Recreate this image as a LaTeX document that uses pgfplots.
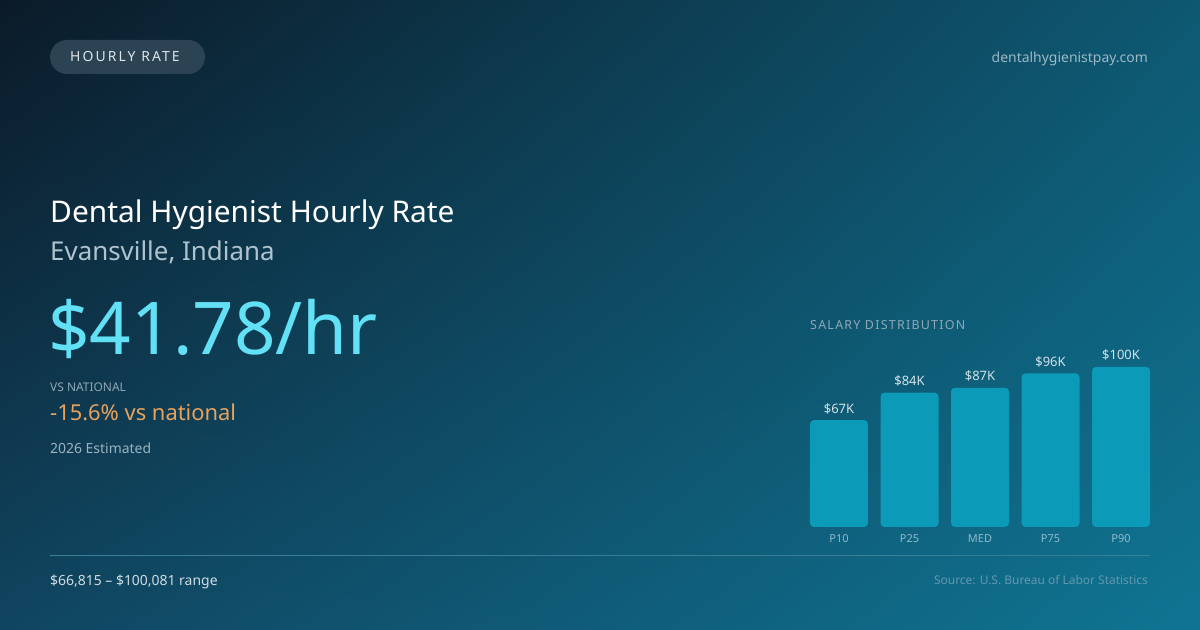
\documentclass[border=0pt]{standalone}
\usepackage{pgfplots}
\pgfplotsset{compat=1.18}
\usetikzlibrary{shadings}
\usepackage{fontspec}
\setmainfont{Noto Sans}

\definecolor{bgTL}{HTML}{0B1A28}
\definecolor{bgTR}{HTML}{0E5872}
\definecolor{bgBL}{HTML}{104560}
\definecolor{bgBR}{HTML}{0F7593}
\definecolor{pill}{HTML}{2B4352}
\definecolor{pilltext}{HTML}{DCE5EA}
\definecolor{site}{HTML}{9DB8C6}
\definecolor{subtitle}{HTML}{AFC3CE}
\definecolor{rate}{HTML}{62E0F5}
\definecolor{muted}{HTML}{8FA8B6}
\definecolor{delta}{HTML}{E8A25C}
\definecolor{est}{HTML}{9BB3C0}
\definecolor{barcol}{HTML}{0B9AB8}
\definecolor{barlbl}{HTML}{D3E2EA}
\definecolor{ticklbl}{HTML}{8EBBCD}
\definecolor{rule}{HTML}{3A7E96}
\definecolor{footer}{HTML}{CFDCE3}
\definecolor{source}{HTML}{6398AF}

\newcommand{\fs}[1]{\fontsize{#1}{#1}\selectfont}

\begin{document}
\begin{tikzpicture}[x=1bp,y=1bp]
% background
\shade[upper left=bgTL, upper right=bgTR, lower left=bgBL, lower right=bgBR]
  (0,0) rectangle (1200,630);

% header
\fill[pill, rounded corners=17bp] (50,556) rectangle (205,590);
\node[anchor=base west, text=pilltext, inner sep=0] at (70,568)
  {\fs{14}\addfontfeature{LetterSpace=15}HOURLY RATE};
\node[anchor=base east, text=site, inner sep=0] at (1148,567)
  {\fs{14}dentalhygienistpay.com};

% left block
\node[anchor=base west, text=white, inner sep=0] at (50,407)
  {\fs{30}Dental Hygienist Hourly Rate};
\node[anchor=base west, text=subtitle, inner sep=0] at (50,369)
  {\fs{26}Evansville, Indiana};
\node[anchor=base west, text=rate, inner sep=0] at (48,275)
  {\fs{73}\$41.78/hr};
\node[anchor=base west, text=muted, inner sep=0] at (50,238)
  {\fs{12}VS NATIONAL};
\node[anchor=base west, text=delta, inner sep=0] at (50,209)
  {\fs{22}-15.6\% vs national};
\node[anchor=base west, text=est, inner sep=0] at (50,176)
  {\fs{14}2026 Estimated};

% chart title
\node[anchor=base west, text=muted, inner sep=0] at (810,300)
  {\fs{12.5}\addfontfeature{LetterSpace=10}SALARY DISTRIBUTION};

% footer
\draw[rule, line width=1bp] (50,74) -- (1150,74);
\node[anchor=base west, text=footer, inner sep=0] at (50,44)
  {\fs{14}\$66,815 – \$100,081 range};
\node[anchor=base east, text=source, inner sep=0] at (1148,45)
  {\fs{12}Source: U.S. Bureau of Labor Statistics};

\begin{axis}[
    at={(810bp,103bp)}, anchor=south west,
    scale only axis,
    width=340bp, height=160bp,
    xmin=-0.411, xmax=4.411,
    ymin=0, ymax=100,
    axis lines=none,
    ybar, bar width=58bp, bar shift=0pt,
    clip=false,
    point meta=explicit symbolic,
    nodes near coords,
    every node near coord/.append style={
        font=\fs{13}, text=barlbl, inner sep=0, anchor=base, yshift=7bp},
]
\addplot[fill=barcol, draw=none, rounded corners=4bp] coordinates {
    (0,66.815) [\$67K]
    (1,84.0)   [\$84K]
    (2,87.0)   [\$87K]
    (3,96.0)   [\$96K]
    (4,100.081) [\$100K]
};
\end{axis}

% category labels
\foreach \x/\lab in {839/P10, 909.5/P25, 980/MED, 1050.5/P75, 1121/P90}
  \node[text=ticklbl, inner sep=0] at (\x,91) {\fs{11}\lab};
\end{tikzpicture}
\end{document}
